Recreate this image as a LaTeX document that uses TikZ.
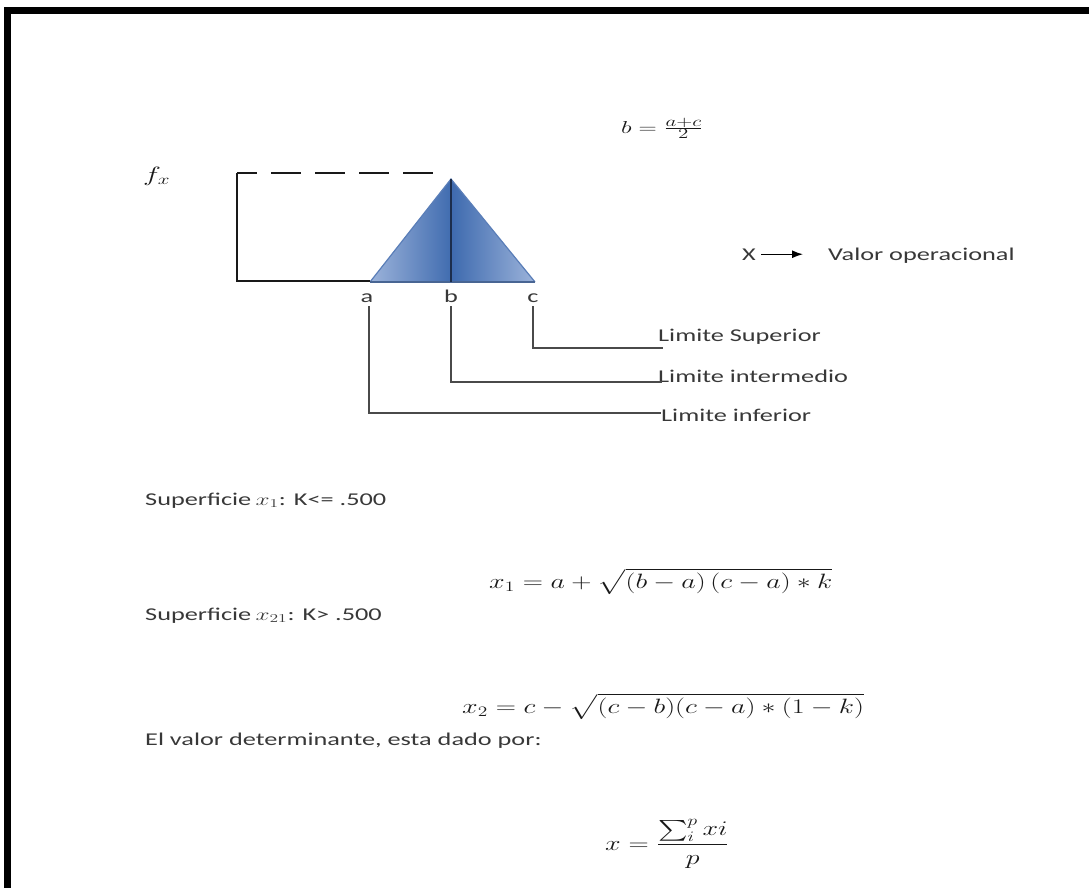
\documentclass[tikz,border=0pt]{standalone}
\usepackage{fontspec}
\setmainfont{Carlito}
\usepackage{amsmath}
\usepackage{graphicx}
\usetikzlibrary{arrows.meta}
\definecolor{txtgray}{HTML}{383838}
\definecolor{leadgray}{HTML}{4A4A4A}
\definecolor{trilight}{HTML}{9CB3DA}
\definecolor{tridark}{HTML}{3F6BAF}
\definecolor{triedge}{HTML}{5A7EB8}
\definecolor{trimid}{HTML}{1C2D4C}
\newcommand{\sw}[1]{\scalebox{1.46}[1]{#1}}
\newcommand{\swm}[1]{\scalebox{1.35}[1]{#1}}
\begin{document}
\begin{tikzpicture}[x=1pt,y=-1pt,
  txt/.style={inner sep=0pt, text=txtgray, font=\fontsize{18}{21}\selectfont},
  mth/.style={inner sep=0pt, text=black!90, font=\fontsize{21}{24}\selectfont},
  mthsmall/.style={mth, font=\fontsize{19}{22}\selectfont},
  axisline/.style={line width=1.8pt, draw=black!90},
  leader/.style={line width=1.6pt, draw=leadgray},
]
\useasboundingbox (0,0) rectangle (1089,888);
% frame bars
\fill[black] (4,7) rectangle (1089,14);
\fill[black] (4,7) rectangle (11,888);

% formula b
\node[mthsmall, anchor=base] (bdef) at (662,133) {\sw{$b=\frac{a+c}{2}$}};
% f_x
\node[mth, font=\fontsize{22}{25}\selectfont, anchor=base west] (fx) at (143,181) {\sw{$f_x$}};

% key points
\coordinate (A) at (370,282);
\coordinate (B) at (451,282);
\coordinate (C) at (535,282);
\coordinate (T) at (451,179);
\coordinate (TL) at (237,173);
\coordinate (BL) at (237,281);
\coordinate (DE) at (435,173);

% triangle
\shade[left color=trilight, right color=trilight, middle color=tridark] (A) -- (T) -- (C) -- cycle;
\draw[line width=1.2pt, draw=triedge] (A) -- (T) -- (C);
\draw[line width=2pt, draw=triedge!80!black] (A) -- (C);
\draw[line width=1.8pt, draw=trimid] (T) -- (B);

% frame lines
\draw[axisline] (A |- BL) -- (BL) -- (TL);
\draw[axisline, dash pattern=on 30pt off 14pt, dash phase=10pt] (TL) -- (DE);

% labels a b c
\node[txt, anchor=base] (la) at (367,302) {\sw{a}};
\node[txt, anchor=base] (lb) at (451,302) {\sw{b}};
\node[txt, anchor=base] (lc) at (533,302) {\sw{c}};

% limit texts
\node[txt, anchor=base west] (sup) at (658,341) {\sw{Limite Superior}};
\node[txt, anchor=base west] (int) at (658,382) {\sw{Limite intermedio}};
\node[txt, anchor=base west] (inf) at (661,421) {\sw{Limite inferior}};
\coordinate (supend) at (663,348);
\coordinate (intend) at (662,382);
\coordinate (infend) at (661,413);

\draw[leader] (lc.south |- 0,306) -- (lc.south |- supend) -- (supend);
\draw[leader] (lb.south |- 0,306) -- (lb.south |- intend) -- (intend);
\draw[leader] (369,306) -- (369,413) -- (infend);

% X -> Valor operacional
\node[txt, anchor=base] (X) at (749,260) {\sw{X}};
\node[txt, anchor=base west] (valor) at (828,260) {\sw{Valor operacional}};
\draw[line width=1.4pt, -{Latex[length=11pt,width=8pt]}, shorten <=5pt] (X.east) -- (X.east -| 803,0);

% Superficie lines
\node[txt, anchor=base west] (s1) at (145,505) {\sw{Superficie\,$x_1$: K<= .500}};
\node[txt, anchor=base west] (s2) at (145,620) {\sw{Superficie\,$x_{21}$: K> .500}};

% formulas
\node[mth, anchor=base west] (f1) at (489,588) {\swm{$x_1=a+\sqrt{(b-a)\,(c-a)*k}$}};
\node[mth, anchor=base west] (f2) at (462,713) {\swm{$x_2=c-\sqrt{(c-b)(c-a)*(1-k)}$}};

\node[txt, anchor=base west] (el) at (145,745) {\sw{El valor determinante, esta dado por:}};

\node[mth, font=\fontsize{20}{23}\selectfont, anchor=base west] (f3) at (605,850) {\swm{$x=\dfrac{\sum_i^p xi}{p}$}};
\end{tikzpicture}
\end{document}
